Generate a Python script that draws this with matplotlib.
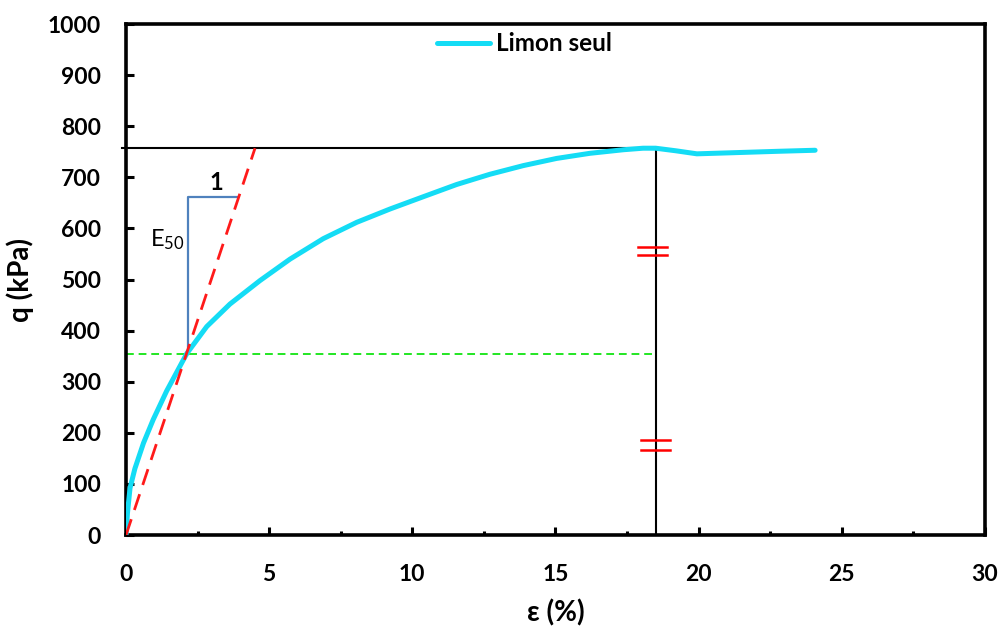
import matplotlib.pyplot as plt
from matplotlib.ticker import MultipleLocator

plt.rcParams['font.family'] = ['Lato', 'DejaVu Sans']
plt.rcParams['font.weight'] = 'bold'

# Limon seul - deviator stress vs axial strain
strain = [0, 0.05, 0.14, 0.31, 0.61, 0.95, 1.42, 2.12, 2.82, 3.63, 4.68, 5.73,
          6.89, 8.06, 9.22, 10.38, 11.55, 12.71, 13.88, 15.04, 16.2, 17.37,
          18.06, 18.5, 19.2, 19.94, 21.1, 22.8, 24.07]
q_kpa = [0, 43, 92, 130, 180, 226, 282, 355, 408, 452, 498, 540,
         580, 612, 638, 662, 686, 706, 723, 737, 747, 754,
         757, 757, 752, 746, 748, 751, 753]

q_max = 757
eps_peak = 18.5
q_50 = 354
e50_slope = 168          # kPa per %
tri_eps = [2.18, 3.9]
tri_q = [q_50, 662]
break_upper = [548, 564]
break_lower = [166, 186]

fig = plt.figure(figsize=(10.01, 6.31), dpi=100)
ax = fig.add_axes([0.1259, 0.1521, 0.858, 0.8098])

ax.plot(strain, q_kpa, color='#14DCF5', lw=3.6, label='Limon seul', zorder=3,
        solid_joinstyle='round', solid_capstyle='round')

# secant modulus line
ax.plot([0, q_max / e50_slope], [0, q_max], color='#FF1A1A', lw=2,
        dashes=(6, 3.5), zorder=4)
# q50 level
ax.plot([0, eps_peak], [q_50, q_50], color='#22E622', lw=1.4, dashes=(4, 2.5), zorder=2)
# peak lines
ax.plot([-0.13, eps_peak], [q_max, q_max], color='black', lw=1.5, clip_on=False, zorder=2)
ax.plot([eps_peak, eps_peak], [0, q_max], color='black', lw=1.5, zorder=2)
# slope triangle
ax.plot([tri_eps[0], tri_eps[0], tri_eps[1]], [tri_q[0], tri_q[1], tri_q[1]],
        color='#4F81BD', lw=1.6, zorder=2)
ax.text(3.17, 690, '1', fontsize=17, fontweight='bold', ha='center', va='center')
ax.text(1.44, 577, r'$\mathregular{E_{50}}$', fontsize=17, fontweight='normal',
        ha='center', va='center')
# break marks
for y in break_upper:
    ax.plot([17.9, 18.9], [y, y], color='#FF0000', lw=1.8, zorder=5)
for y in break_lower:
    ax.plot([18.0, 19.0], [y, y], color='#FF0000', lw=1.8, zorder=5)

ax.set_xlim(0, 30)
ax.set_ylim(0, 1000)
ax.xaxis.set_major_locator(MultipleLocator(5))
ax.xaxis.set_minor_locator(MultipleLocator(2.5))
ax.yaxis.set_major_locator(MultipleLocator(100))
ax.tick_params(which='major', direction='in', length=6, width=2.2, labelsize=16.5)
ax.tick_params(which='minor', direction='in', length=3, width=2.2)
ax.tick_params(axis='x', which='major', pad=21)
ax.tick_params(axis='y', which='major', pad=18)
for lab in ax.get_xticklabels() + ax.get_yticklabels():
    lab.set_fontweight('bold')
for sp in ax.spines.values():
    sp.set_linewidth(2.6)

ax.set_xlabel('ε (%)', fontsize=20, fontweight='bold', labelpad=10)
ax.set_ylabel('q (kPa)', fontsize=20, fontweight='bold', labelpad=10)

ax.legend(loc='center left', bbox_to_anchor=(0.362, 0.961), frameon=False,
          borderpad=0, borderaxespad=0,
          prop={'size': 17.5, 'weight': 'bold'}, handlelength=2.2, handletextpad=0.25)

plt.savefig('out.png', dpi=100)
plt.close()
